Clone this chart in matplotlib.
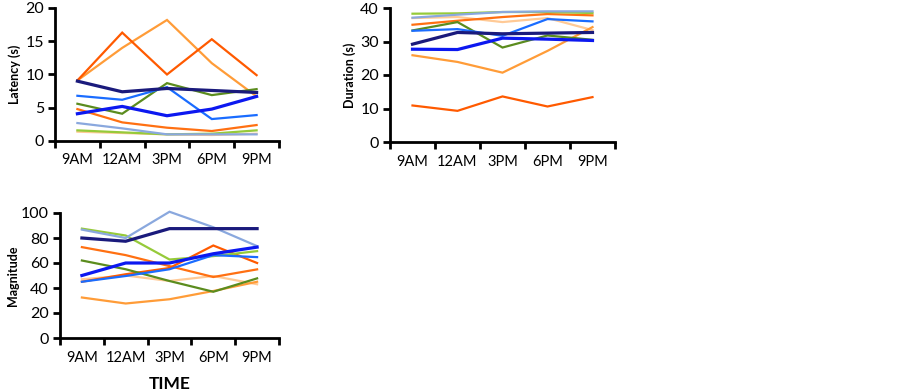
import matplotlib
matplotlib.use("Agg")
import matplotlib.pyplot as plt

times = ["9AM", "12AM", "3PM", "6PM", "9PM"]

series_names = ["paleorange", "lightorange", "orange", "orangered", "lightgreen",
                "olive", "steel", "midblue", "blue", "navy"]
colors = {
    "navy": "#1a1a7c", "blue": "#0c18f0", "midblue": "#1a6cff", "steel": "#8aa8de",
    "olive": "#5b8c1e", "lightgreen": "#96ca3a", "orangered": "#ff5a00",
    "orange": "#ff7012", "lightorange": "#ff9c38", "paleorange": "#ffca96",
}
widths = {"navy": 2.3, "blue": 2.3}

latency = {
    "navy": [9.0, 7.4, 7.9, 7.6, 7.3],
    "blue": [4.1, 5.2, 3.8, 4.8, 6.7],
    "midblue": [6.8, 6.2, 8.1, 3.3, 3.9],
    "steel": [2.7, 1.9, 1.0, 1.0, 1.0],
    "olive": [5.6, 4.1, 8.7, 6.9, 7.8],
    "lightgreen": [1.6, 1.3, 1.0, 1.1, 1.6],
    "orangered": [9.1, 16.3, 10.0, 15.3, 9.9],
    "orange": [4.8, 2.8, 2.0, 1.5, 2.4],
    "lightorange": [9.1, 14.0, 18.2, 11.7, 6.7],
    "paleorange": [1.4, 1.2, 1.0, 0.9, 1.1],
}
duration = {
    "navy": [29.2, 32.7, 32.3, 32.5, 32.7],
    "blue": [27.7, 27.6, 31.0, 30.7, 30.3],
    "midblue": [33.2, 33.7, 31.7, 36.7, 36.0],
    "steel": [37.1, 38.0, 38.8, 39.0, 39.0],
    "olive": [33.3, 35.8, 28.2, 31.8, 30.5],
    "lightgreen": [38.3, 38.4, 38.8, 38.8, 38.5],
    "orangered": [10.9, 9.3, 13.6, 10.6, 13.4],
    "orange": [35.0, 36.2, 37.3, 38.2, 37.8],
    "lightorange": [25.9, 23.9, 20.7, 27.2, 34.3],
    "paleorange": [37.0, 37.3, 35.8, 37.0, 33.4],
}
magnitude = {
    "navy": [80.0, 77.4, 87.5, 87.5, 87.5],
    "blue": [50.0, 60.0, 60.0, 67.4, 72.7],
    "midblue": [45.0, 49.6, 55.0, 66.3, 64.7],
    "steel": [86.7, 80.0, 101.0, 88.6, 73.5],
    "olive": [62.0, 55.0, 45.6, 37.0, 47.7],
    "lightgreen": [87.5, 82.0, 62.8, 65.5, 69.5],
    "orangered": [45.0, 51.0, 56.0, 74.0, 60.0],
    "orange": [72.7, 66.3, 57.5, 48.8, 54.9],
    "lightorange": [32.4, 27.6, 31.0, 37.6, 45.0],
    "paleorange": [47.0, 50.0, 45.6, 49.6, 43.0],
}

plt.rcParams["font.family"] = ["Lato", "DejaVu Sans"]

fig = plt.figure(figsize=(9.02, 3.92), dpi=100)

def panel(rect, data, ymax, ystep, ylabel, ylabel_x):
    ax = fig.add_axes(rect)
    x = list(range(len(times)))
    for name in series_names:
        ax.plot(x, data[name], color=colors[name], lw=widths.get(name, 1.6),
                solid_joinstyle="miter", clip_on=False, zorder=3)
    ax.set_xlim(-0.5, len(times) - 0.5)
    ax.set_ylim(0, ymax)
    ax.set_xticks([i - 0.5 for i in range(len(times) + 1)])
    ax.set_xticklabels([])
    ax.set_xticks(x, minor=True)
    ax.set_xticklabels(times, minor=True, fontsize=10.5)
    ax.tick_params(axis="x", which="minor", length=0, pad=9)
    ax.tick_params(axis="x", which="major", direction="out", length=5, width=2)
    ax.set_yticks(range(0, ymax + 1, ystep))
    ax.tick_params(axis="y", direction="out", length=5, width=2, labelsize=11.5, pad=3)
    for s in ["top", "right"]:
        ax.spines[s].set_visible(False)
    for s in ["left", "bottom"]:
        ax.spines[s].set_linewidth(2)
    ax.set_ylabel(ylabel, fontsize=9, fontweight="bold")
    ax.yaxis.set_label_coords(ylabel_x, 0.5)
    return ax

panel([55/902, 1-141/392, 224/902, 133/392], latency, 20, 5, "Latency (s)", -0.15)
panel([390/902, 1-142/392, 225/902, 134/392], duration, 40, 10, "Duration (s)", -0.15)
ax3 = panel([60/902, 1-338/392, 219/902, 125/392], magnitude, 100, 20, "Magnitude", -0.187)
ax3.set_xlabel("TIME", fontsize=12.5, fontweight="bold", labelpad=8)

fig.savefig("out.png", dpi=100)
